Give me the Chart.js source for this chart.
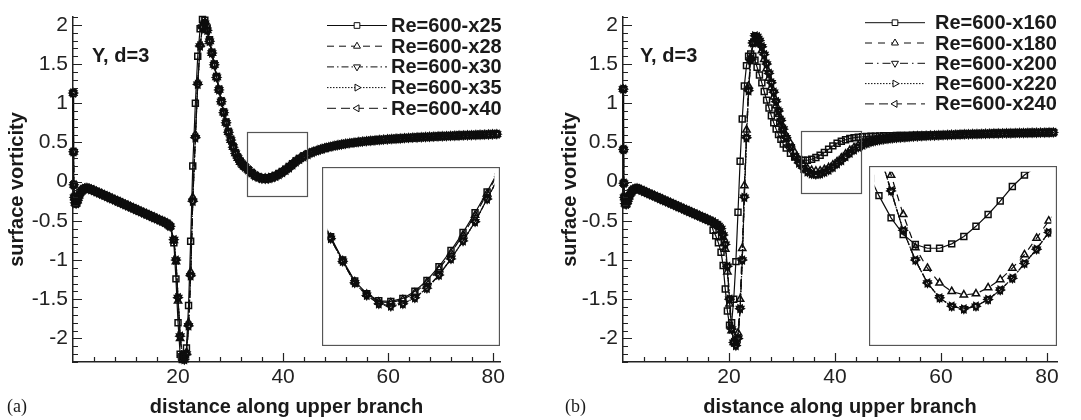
<!DOCTYPE html>
<html>
<head>
<meta charset="utf-8">
<script src="https://cdn.jsdelivr.net/npm/chart.js@4.4.1/dist/chart.umd.min.js"></script>
<style>
  html, body { margin: 0; padding: 0; background: #fff; }
  #wrap { position: relative; width: 1081px; height: 420px; overflow: hidden; }
  canvas { position: absolute; }
  .note { position: absolute; font: bold 20px "Liberation Sans", Arial, sans-serif; color: #1a1a1a; line-height: 1; white-space: nowrap; }
  .tag { position: absolute; font: 18px "Liberation Serif", "Times New Roman", serif; color: #1a1a1a; line-height: 1; }
</style>
</head>
<body>
<div id="wrap">
  <canvas id="mainA" width="540" height="420" style="left:0;top:0"></canvas>
  <canvas id="mainB" width="541" height="420" style="left:540px;top:0"></canvas>
  <canvas id="zoomA" width="178" height="179" style="left:322px;top:167px"></canvas>
  <canvas id="zoomB" width="188" height="180" style="left:869px;top:166px"></canvas>
  <div class="note" style="left:92px;top:45px">Y, d=3</div>
  <div class="note" style="left:640px;top:45px">Y, d=3</div>
  <div class="tag" style="left:7px;top:397px">(a)</div>
  <div class="tag" style="left:565px;top:397px">(b)</div>
</div>
<script>
// Vorticidad superficial a lo largo de la rama superior, leída a ojo de la figura.
// Cada curva se arma pegando tramos: borde de ataque, tramo lineal, pozo+pico, mínimo, cola.

const AXIS = "#222";
const INK = "#0d0d0d";
const SANS = '"Liberation Sans", Arial, Helvetica, sans-serif';

// ---------- tramos compartidos ----------
const leadX = [0.05, 0.1, 0.15, 0.25, 0.4, 0.6, 0.85, 1.15, 1.5, 1.9, 2.3, 2.65];

// ---------- panel (a) ----------
const leadYA = [1.13, 0.38, -0.04, -0.2, -0.27, -0.28, -0.24, -0.18, -0.13, -0.1, -0.085, -0.08];
const linXA = [3, 3.5, 4, 4.5, 5, 5.5, 6, 6.5, 7, 7.5, 8, 8.5, 9, 9.5, 10, 10.5, 11, 11.5, 12, 12.5,
  13, 13.5, 14, 14.5, 15, 15.5, 16, 16.5, 17, 17.5, 18, 18.5];
const linYA = [-0.09, -0.1, -0.115, -0.13, -0.145, -0.16, -0.175, -0.19, -0.205, -0.22, -0.235, -0.25,
  -0.265, -0.28, -0.295, -0.31, -0.325, -0.34, -0.355, -0.37, -0.385, -0.4, -0.415, -0.43, -0.445,
  -0.46, -0.475, -0.49, -0.505, -0.52, -0.54, -0.57];
const dropXA = [19.2, 19.6, 20, 20.4, 20.8, 21.2, 21.6, 22, 22.4, 22.8, 23.3, 23.75, 24.2, 24.65, 25.1,
  25.55, 26, 26.45, 26.9, 27.35, 27.8, 28.25, 28.7, 29.15, 29.6, 30.05, 30.5, 30.95, 31.4, 31.85, 32.3, 32.75];
const dropYA25 = [-0.78, -1.24, -1.8, -2.2, -2.27, -2.24, -2.12, -1.58, -0.76, 0.2, 1.0, 1.6, 1.95, 2.07, 2.06,
  1.96, 1.81, 1.65, 1.5, 1.34, 1.18, 1.03, 0.89, 0.76, 0.64, 0.54, 0.45, 0.37, 0.31, 0.26, 0.22, 0.19];
const dropYA28 = [-0.75, -1.02, -1.52, -2.0, -2.23, -2.27, -2.18, -1.8, -1.15, -0.2, 0.6, 1.27, 1.75, 1.98, 2.03,
  1.93, 1.79, 1.64, 1.49, 1.33, 1.17, 1.02, 0.88, 0.75, 0.63, 0.53, 0.44, 0.36, 0.3, 0.25, 0.215, 0.185];
const dropYA30 = [-0.74, -1.0, -1.48, -1.97, -2.22, -2.27, -2.2, -1.84, -1.2, -0.25, 0.56, 1.24, 1.73, 1.97, 2.02,
  1.93, 1.79, 1.64, 1.49, 1.33, 1.17, 1.02, 0.88, 0.75, 0.63, 0.53, 0.44, 0.36, 0.3, 0.25, 0.215, 0.185];
const minXA = [33.35, 34, 34.65, 35.3, 35.95, 36.6, 37.25, 37.9, 38.55, 39.2, 39.85, 40.5, 41.15, 41.8, 42.45,
  43.1, 43.9, 44.7, 45.5];
const minYA25 = [0.153, 0.114, 0.079, 0.058, 0.046, 0.045, 0.05, 0.062, 0.08, 0.103, 0.13, 0.16, 0.193, 0.228,
  0.265, 0.296, 0.327, 0.354, 0.377];
const minYA28 = [0.152, 0.113, 0.078, 0.057, 0.044, 0.043, 0.048, 0.059, 0.077, 0.099, 0.126, 0.156, 0.189,
  0.225, 0.262, 0.293, 0.325, 0.352, 0.375];
const minYA30 = [0.15, 0.112, 0.076, 0.055, 0.041, 0.037, 0.041, 0.051, 0.067, 0.089, 0.116, 0.146, 0.178,
  0.216, 0.254, 0.285, 0.318, 0.347, 0.372];
const tailXA = [46.3, 47.1, 47.9, 48.7, 49.5, 50.3, 51.1, 51.9, 52.7, 53.5, 54.3, 55.1, 55.9, 56.7, 57.5, 58.3,
  59.1, 59.9, 60.7, 61.5, 62.3, 63.1, 63.9, 64.7, 65.5, 66.3, 67.1, 67.9, 68.7, 69.5, 70.3, 71.1, 71.9, 72.7,
  73.5, 74.3, 75.1, 75.9, 76.7, 77.5, 78.3, 79.1, 79.9, 80.7];
const tailYA = [0.393, 0.411, 0.427, 0.441, 0.453, 0.464, 0.474, 0.483, 0.491, 0.498, 0.505, 0.511, 0.517,
  0.522, 0.527, 0.532, 0.536, 0.54, 0.544, 0.548, 0.551, 0.555, 0.558, 0.561, 0.564, 0.567, 0.569, 0.572,
  0.574, 0.577, 0.579, 0.581, 0.584, 0.586, 0.588, 0.59, 0.592, 0.594, 0.596, 0.598, 0.6, 0.602, 0.604, 0.606];

const distA = [...leadX, ...linXA, ...dropXA, ...minXA, ...tailXA];
const vortA25 = [...leadYA, ...linYA, ...dropYA25, ...minYA25, ...tailYA];
const vortA28 = [...leadYA, ...linYA, ...dropYA28, ...minYA28, ...tailYA];
// x30, x35 y x40 no se distinguen en la figura: comparten valores
const vortA30 = [...leadYA, ...linYA, ...dropYA30, ...minYA30, ...tailYA];

// ---------- panel (b) ----------
const leadYB = [1.18, 0.41, -0.02, -0.2, -0.28, -0.29, -0.25, -0.19, -0.14, -0.105, -0.09, -0.085];
const linXB = [3, 3.5, 4, 4.5, 5, 5.5, 6, 6.5, 7, 7.5, 8, 8.5, 9, 9.5, 10, 10.5, 11, 11.5, 12, 12.5,
  13, 13.5, 14, 14.5, 15, 15.5, 16, 16.5];
const linYB = [-0.095, -0.11, -0.125, -0.14, -0.155, -0.17, -0.185, -0.2, -0.215, -0.23, -0.245, -0.26,
  -0.275, -0.29, -0.305, -0.32, -0.335, -0.35, -0.365, -0.38, -0.395, -0.41, -0.425, -0.44, -0.455, -0.47,
  -0.485, -0.5];
const dropXB = [17, 17.5, 18, 18.5, 18.9, 19.3, 19.7, 20.1, 20.5, 20.9, 21.3, 21.7, 22.1, 22.5, 22.9, 23.3,
  23.7, 24.1, 24.5, 24.9, 25.3, 25.75, 26.2, 26.65, 27.1, 27.55, 28, 28.45, 28.9, 29.35, 29.8, 30.25];
const dropYB160 = [-0.62, -0.69, -0.78, -0.9, -1.07, -1.37, -1.65, -1.83, -1.8, -1.5, -1.02, -0.39, 0.26, 0.8,
  1.22, 1.48, 1.6, 1.63, 1.6, 1.55, 1.46, 1.36, 1.26, 1.15, 1.04, 0.94, 0.84, 0.75, 0.67, 0.6, 0.54, 0.48];
const dropYB180 = [-0.52, -0.54, -0.57, -0.62, -0.71, -0.86, -1.15, -1.56, -1.9, -2.05, -2.06, -1.93, -1.5,
  -0.85, -0.05, 0.66, 1.22, 1.57, 1.76, 1.84, 1.82, 1.76, 1.67, 1.56, 1.44, 1.32, 1.2, 1.08, 0.97, 0.86, 0.75, 0.65];
const dropYB200 = [-0.515, -0.535, -0.56, -0.6, -0.68, -0.8, -1.08, -1.5, -1.88, -2.05, -2.09, -2.0, -1.62,
  -1.0, -0.2, 0.56, 1.16, 1.55, 1.77, 1.86, 1.85, 1.8, 1.72, 1.62, 1.5, 1.38, 1.26, 1.14, 1.02, 0.9, 0.78, 0.67];
const minXB = [30.8, 31.6, 32.4, 33.2, 34, 34.8, 35.6, 36.4, 37.2, 38, 38.8, 39.6, 40.4, 41.2, 42];
const minYB160 = [0.429, 0.363, 0.314, 0.284, 0.273, 0.273, 0.286, 0.308, 0.338, 0.373, 0.413, 0.456, 0.49, 0.515, 0.535];
const minYB180 = [0.58, 0.49, 0.373, 0.275, 0.214, 0.17, 0.145, 0.135, 0.138, 0.156, 0.18, 0.214, 0.254, 0.303, 0.354];
const minYB200 = [0.56, 0.443, 0.326, 0.238, 0.17, 0.126, 0.101, 0.093, 0.101, 0.121, 0.149, 0.184, 0.228, 0.27, 0.32];
const approachXB = [42.8, 43.6, 44.4, 45.2, 46, 46.8, 47.6, 48.4, 49.2, 50, 50.8, 51.6, 52.4, 53.2, 54, 54.8,
  55.6, 56.4, 57.2, 58, 58.8, 59.6];
const approachYB160 = [0.55, 0.56, 0.567, 0.572, 0.576, 0.579, 0.581, 0.583, 0.585, 0.586, 0.587, 0.588, 0.589,
  0.59, 0.59, 0.591, 0.591, 0.592, 0.592, 0.593, 0.593, 0.594];
const approachYB180 = [0.4, 0.435, 0.465, 0.49, 0.508, 0.522, 0.533, 0.542, 0.55, 0.556, 0.561, 0.566, 0.57,
  0.573, 0.576, 0.579, 0.582, 0.584, 0.586, 0.588, 0.59, 0.592];
const approachYB200 = [0.365, 0.405, 0.44, 0.468, 0.49, 0.507, 0.52, 0.531, 0.54, 0.547, 0.553, 0.558, 0.563,
  0.567, 0.571, 0.575, 0.578, 0.581, 0.584, 0.587, 0.589, 0.592];
const tailXB = [60.4, 61.2, 62, 62.8, 63.6, 64.4, 65.2, 66, 66.8, 67.6, 68.4, 69.2, 70, 70.8, 71.6, 72.4, 73.2,
  74, 74.8, 75.6, 76.4, 77.2, 78, 78.8, 79.6, 80.4, 81.2];
const tailYB = [0.594, 0.596, 0.598, 0.6, 0.602, 0.604, 0.605, 0.607, 0.608, 0.61, 0.611, 0.612, 0.614, 0.615,
  0.616, 0.617, 0.618, 0.619, 0.62, 0.621, 0.622, 0.623, 0.624, 0.625, 0.626, 0.627, 0.628];

const distB = [...leadX, ...linXB, ...dropXB, ...minXB, ...approachXB, ...tailXB];
const vortB160 = [...leadYB, ...linYB, ...dropYB160, ...minYB160, ...approachYB160, ...tailYB];
const vortB180 = [...leadYB, ...linYB, ...dropYB180, ...minYB180, ...approachYB180, ...tailYB];
// x200, x220 y x240 se superponen
const vortB200 = [...leadYB, ...linYB, ...dropYB200, ...minYB200, ...approachYB200, ...tailYB];

const seriesA = [
  { label: "Re=600-x25", y: vortA25, dash: [], style: "rect", rot: 0 },
  { label: "Re=600-x28", y: vortA28, dash: [7, 5], style: "triangle", rot: 0 },
  { label: "Re=600-x30", y: vortA30, dash: [7, 3, 1.5, 3], style: "triangle", rot: 180 },
  { label: "Re=600-x35", y: vortA30, dash: [1.5, 1.5], style: "triangle", rot: 90 },
  { label: "Re=600-x40", y: vortA30, dash: [9, 5], style: "triangle", rot: -90 },
];
const seriesB = [
  { label: "Re=600-x160", y: vortB160, dash: [], style: "rect", rot: 0 },
  { label: "Re=600-x180", y: vortB180, dash: [7, 6], style: "triangle", rot: 0 },
  { label: "Re=600-x200", y: vortB200, dash: [8, 4, 1.5, 4], style: "triangle", rot: 180 },
  { label: "Re=600-x220", y: vortB200, dash: [1.5, 1.5], style: "triangle", rot: 90 },
  { label: "Re=600-x240", y: vortB200, dash: [9, 5], style: "triangle", rot: -90 },
];

[[distA, seriesA], [distB, seriesB]].forEach(([xs, list]) =>
  list.forEach((s) => { if (s.y.length !== xs.length) console.warn("largo distinto", s.label, s.y.length, xs.length); })
);

// ---------- plugins ----------
const near = (v, step) => Math.abs(v / step - Math.round(v / step)) < 1e-6;

// marcas hacia adentro, largas en los valores con rótulo
const innerTicks = {
  id: "innerTicks",
  afterDraw(chart) {
    const { ctx, chartArea: a } = chart;
    const sx = chart.scales.x, sy = chart.scales.y;
    ctx.save();
    ctx.strokeStyle = AXIS;
    ctx.lineWidth = 1.2;
    ctx.beginPath();
    sx.ticks.forEach((t) => {
      if (t.value <= 0 || !near(t.value, 4)) return;
      const px = Math.round(sx.getPixelForValue(t.value)) + 0.5;
      const len = near(t.value, 20) ? 9 : 5;
      ctx.moveTo(px, a.bottom);
      ctx.lineTo(px, a.bottom - len);
    });
    sy.ticks.forEach((t) => {
      if (!near(t.value, 0.1)) return;
      const py = Math.round(sy.getPixelForValue(t.value)) + 0.5;
      const len = near(t.value, 0.5) ? 9 : 5;
      ctx.moveTo(a.left, py);
      ctx.lineTo(a.left + len, py);
    });
    ctx.stroke();
    ctx.restore();
  },
};

// recuadro de la zona ampliada, en unidades de datos
const zoomFrame = {
  id: "zoomFrame",
  afterDatasetsDraw(chart, args, o) {
    if (!o.box) return;
    const { ctx } = chart;
    const sx = chart.scales.x, sy = chart.scales.y;
    const l = sx.getPixelForValue(o.box[0]), r = sx.getPixelForValue(o.box[1]);
    const t = sy.getPixelForValue(o.box[3]), b = sy.getPixelForValue(o.box[2]);
    ctx.save();
    ctx.strokeStyle = "#555";
    ctx.lineWidth = 1.2;
    ctx.strokeRect(Math.round(l) + 0.5, Math.round(t) + 0.5, Math.round(r - l), Math.round(b - t));
    ctx.restore();
  },
};

function keyMarker(ctx, style, rot, x, y, r) {
  ctx.beginPath();
  if (style === "rect") {
    const s = r * Math.SQRT1_2;
    ctx.rect(x - s, y - s, 2 * s, 2 * s);
  } else {
    let ang = (rot * Math.PI) / 180;
    for (let k = 0; k < 3; k++) {
      const px = x + Math.sin(ang) * r, py = y - Math.cos(ang) * r;
      if (k) ctx.lineTo(px, py); else ctx.moveTo(px, py);
      ang += (2 * Math.PI) / 3;
    }
    ctx.closePath();
  }
  ctx.fill();
  ctx.stroke();
}

// leyenda estilo Tecplot: tramo de línea con el símbolo al medio
const seriesKey = {
  id: "seriesKey",
  afterDraw(chart, args, o) {
    const { ctx } = chart;
    chart.data.datasets.forEach((ds, i) => {
      const y = o.top + i * o.step;
      ctx.save();
      ctx.strokeStyle = INK;
      ctx.lineWidth = 1;
      ctx.setLineDash(ds.borderDash || []);
      ctx.beginPath();
      ctx.moveTo(o.x0, y);
      ctx.lineTo(o.x1, y);
      ctx.stroke();
      ctx.setLineDash([]);
      ctx.fillStyle = "#fff";
      keyMarker(ctx, ds.pointStyle, ds.pointRotation, (o.x0 + o.x1) / 2, y, 4);
      ctx.fillStyle = "#1a1a1a";
      ctx.font = "bold 20px " + SANS;
      ctx.textBaseline = "middle";
      ctx.fillText(ds.label, o.textX, y + 1);
      ctx.restore();
    });
  },
};

const insetFrame = {
  id: "insetFrame",
  beforeDraw(chart) {
    chart.ctx.save();
    chart.ctx.fillStyle = "#fff";
    chart.ctx.fillRect(0, 0, chart.width, chart.height);
    chart.ctx.restore();
  },
  afterDraw(chart) {
    const { ctx } = chart;
    ctx.save();
    ctx.strokeStyle = "#555";
    ctx.lineWidth = 1.3;
    ctx.strokeRect(0.5, 0.5, chart.width - 1, chart.height - 1);
    ctx.restore();
  },
};

// ---------- gráficos ----------
function buildDatasets(list, xs) {
  return list.map((s) => ({
    label: s.label,
    data: xs.map((x, i) => ({ x, y: s.y[i] })),
    borderColor: INK,
    borderWidth: 1.2,
    borderDash: s.dash,
    pointStyle: s.style,
    pointRotation: s.rot,
    pointRadius: 4.2,
    pointBorderWidth: 1.5,
    pointBorderColor: INK,
    pointBackgroundColor: "rgba(0,0,0,0)",
    tension: 0,
    fill: false,
  }));
}

function mainChart(id, xs, list, o) {
  return new Chart(document.getElementById(id), {
    type: "line",
    data: { datasets: buildDatasets(list, xs).map((d) => ({ ...d, clip: 6 })) },
    options: {
      responsive: false,
      animation: false,
      events: [],
      layout: { padding: { left: 0, top: 17, right: o.padRight, bottom: 0 } },
      plugins: {
        legend: { display: false },
        tooltip: { enabled: false },
        seriesKey: o.key,
        zoomFrame: { box: o.box },
      },
      scales: {
        x: {
          type: "linear",
          min: 0,
          max: o.xMax,
          grid: { display: false, drawTicks: false },
          border: { display: true, color: AXIS, width: 1.5 },
          ticks: {
            stepSize: 4,
            includeBounds: false,
            autoSkip: false,
            maxRotation: 0,
            padding: 3,
            color: "#222",
            font: { family: SANS, size: 21 },
            callback: (v) => (v > 0 && near(v, 20) ? String(Math.round(v)) : ""),
          },
          title: {
            display: true,
            text: "distance along upper branch",
            color: "#1a1a1a",
            font: { family: SANS, size: 20, weight: "bold" },
            padding: { top: 0, bottom: 1 },
          },
          afterFit: (s) => { s.height = 58; s.paddingLeft = 0; s.paddingRight = 0; },
        },
        y: {
          type: "linear",
          min: -2.3,
          max: 2.1,
          grid: { display: false, drawTicks: false },
          border: { display: true, color: AXIS, width: 1.5 },
          ticks: {
            stepSize: 0.1,
            includeBounds: false,
            autoSkip: false,
            padding: 5,
            color: "#222",
            font: { family: SANS, size: 21 },
            callback: (v) => {
              const r = Math.round(v * 10) / 10;
              return near(r, 0.5) ? String(r) : "";
            },
          },
          title: {
            display: true,
            text: "surface vorticity",
            color: "#1a1a1a",
            font: { family: SANS, size: 20, weight: "bold" },
            padding: { top: o.titlePad, bottom: 0 },
          },
          afterFit: (s) => { s.width = o.yWidth; s.paddingTop = 0; s.paddingBottom = 0; },
        },
      },
    },
    plugins: [innerTicks, zoomFrame, seriesKey],
  });
}

function insetChart(id, xs, list, xr, yr) {
  return new Chart(document.getElementById(id), {
    type: "line",
    data: { datasets: buildDatasets(list, xs) },
    options: {
      responsive: false,
      animation: false,
      events: [],
      layout: { padding: 0 },
      plugins: { legend: { display: false }, tooltip: { enabled: false } },
      scales: {
        x: { type: "linear", display: false, min: xr[0], max: xr[1] },
        y: { type: "linear", display: false, min: yr[0], max: yr[1] },
      },
    },
    plugins: [insetFrame],
  });
}

// rangos: [xmin, xmax, ymin, ymax] del recuadro; ventanas de las ampliaciones
const boxA = [33.1, 44.6, -0.18, 0.63];
const boxB = [33.6, 44.9, -0.15, 0.64];

mainChart("mainA", distA, seriesA, {
  xMax: 81.3, padRight: 40, yWidth: 73, titlePad: 5,
  key: { x0: 327, x1: 387, textX: 391, top: 25.5, step: 20.7 },
  box: boxA,
});
mainChart("mainB", distB, seriesB, {
  xMax: 81.9, padRight: 24, yWidth: 83, titlePad: 18,
  key: { x0: 325, x1: 385, textX: 395, top: 22.7, step: 20.3 },
  box: boxB,
});
insetChart("zoomA", distA, seriesA, [33.19, 42.19], [-0.02, 0.26]);
insetChart("zoomB", distB, seriesB, [30.52, 42.17], [0, 0.5]);
</script>
</body>
</html>
